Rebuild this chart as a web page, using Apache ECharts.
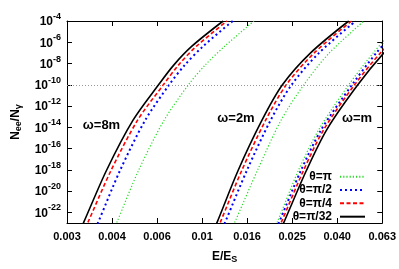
<!DOCTYPE html>
<html><head><meta charset="utf-8">
<script src="https://cdn.jsdelivr.net/npm/echarts@6/dist/echarts.min.js"></script>
<style>html,body{margin:0;padding:0;background:#fff}#c{width:399px;height:269px}</style>
</head><body><div id="c"></div>
<script>
// Tick positions (log10 of E/E_S) and their printed labels
const xTickExponents = [-2.6, -2.4, -2.2, -2.0, -1.8, -1.6, -1.4, -1.2];
const xTickLabels = ['0.003', '0.004', '0.006', '0.01', '0.016', '0.025', '0.040', '0.063'];
// y ticks: exponents of 10 for N_ee/N_gamma
const yTickExponents = [-22, -20, -18, -16, -14, -12, -10, -8, -6, -4];
const refLineExponent = -10;
const thetaNames = ['θ=π', 'θ=π/2', 'θ=π/4', 'θ=π/32'];
const omegaNames = ['ω=8m', 'ω=2m', 'ω=m'];

// omega = 8m : log10(N_ee/N_gamma) levels and E/E_S per theta
const logN_w8 = [-23.5, -22.94, -18.06, -13.33, -10.0, -8.15, -6.37, -4.0];
const E_w8_pi   = [0.004060, 0.004181, 0.005220, 0.006780, 0.008697, 0.010310, 0.012600, 0.017001];
const E_w8_pi2  = [0.003353, 0.003454, 0.004320, 0.005590, 0.007141, 0.008370, 0.010110, 0.013686];
const E_w8_pi4  = [0.003020, 0.003111, 0.003940, 0.005170, 0.006731, 0.007850, 0.009440, 0.012901];
const E_w8_pi32 = [0.002892, 0.002979, 0.003760, 0.004935, 0.006407, 0.007480, 0.009010, 0.012402];

// omega = 2m
const logN_w2 = [-23.5, -22.94, -18.06, -13.33, -10.0, -7.02, -4.0];
const E_w2_pi   = [0.013552, 0.013959, 0.017600, 0.022430, 0.028301, 0.036670, 0.052299];
const E_w2_pi2  = [0.012280, 0.012649, 0.015800, 0.020150, 0.024971, 0.033000, 0.048094];
const E_w2_pi4  = [0.011690, 0.012040, 0.015000, 0.019150, 0.023652, 0.031400, 0.046097];
const E_w2_pi32 = [0.011315, 0.011655, 0.014450, 0.018450, 0.022738, 0.030250, 0.044800];

// omega = m
const logN_w1 = [-23.5, -22.94, -18.06, -14.21, -10.0, -7.0, -5.0];
const E_w1_pi   = [0.020911, 0.021539, 0.026770, 0.033000, 0.044800, 0.057600, 0.069800];
const E_w1_pi2  = [0.021328, 0.021967, 0.027480, 0.033850, 0.046330, 0.059400, 0.072400];
const E_w1_pi4  = [0.021816, 0.022471, 0.028200, 0.034700, 0.047532, 0.062000, 0.077000];
const E_w1_pi32 = [0.022405, 0.023077, 0.029050, 0.035800, 0.049153, 0.064200, 0.080000];

const styles = [
  { color: '#22dd22', width: 1.2, type: [1.2, 2] },
  { color: '#0000ff', width: 2, type: [2, 3] },
  { color: '#ff0000', width: 1.6, type: [4, 2.5] },
  { color: '#000000', width: 1.6, type: 'solid' }
];

const groups = [
  { logN: logN_w8, E: [E_w8_pi, E_w8_pi2, E_w8_pi4, E_w8_pi32] },
  { logN: logN_w2, E: [E_w2_pi, E_w2_pi2, E_w2_pi4, E_w2_pi32] },
  { logN: logN_w1, E: [E_w1_pi, E_w1_pi2, E_w1_pi4, E_w1_pi32] }
];

const FONT = 'Liberation Sans';
const series = [];
groups.forEach((g, gi) => {
  g.E.forEach((arr, ti) => {
    const s = {
      name: thetaNames[ti],
      type: 'line',
      data: arr.map((e, i) => [Math.log10(e), g.logN[i]]),
      symbol: 'none',
      showSymbol: false,
      smooth: 0.3,
      clip: true,
      lineStyle: styles[ti],
      itemStyle: { color: styles[ti].color },
      z: 2 + ti
    };
    if (gi === 0 && ti === 0) {
      s.markLine = {
        silent: true, symbol: ['none', 'none'], label: { show: false },
        lineStyle: { color: '#999', type: [1, 2], width: 1 },
        data: [{ yAxis: refLineExponent }]
      };
    }
    series.push(s);
  });
});

const tickCommon = { show: true, inside: true, length: 5, lineStyle: { color: '#000', width: 1 } };
const lineCommon = { show: true, onZero: false, lineStyle: { color: '#000', width: 1 } };

const chart = echarts.init(document.getElementById('c'), null, { renderer: 'canvas' });
chart.setOption({
  animation: false,
  textStyle: { fontFamily: FONT },
  grid: { left: 56, right: 16, top: 15, bottom: 40, containLabel: false },
  legend: {
    data: thetaNames, orient: 'vertical', align: 'right', right: 33, top: 170.7,
    itemWidth: 25, itemHeight: 10, itemGap: 1.33, padding: 0, selectedMode: false,
    itemStyle: { opacity: 0 },
    textStyle: { fontSize: 12, fontWeight: 'bold', fontFamily: FONT, color: '#000', width: 45, align: 'right', lineHeight: 12, padding: [0, 3, 0, 0] }
  },
  xAxis: [
    {
      type: 'value', min: -2.6, max: -1.2, position: 'bottom',
      axisLine: lineCommon, splitLine: { show: false },
      axisTick: Object.assign({ customValues: xTickExponents }, tickCommon),
      axisLabel: {
        customValues: xTickExponents, color: '#000', fontSize: 11, fontWeight: 'bold', fontFamily: FONT, margin: 8,
        formatter: v => { const i = xTickExponents.findIndex(t => Math.abs(t - v) < 1e-6); return i >= 0 ? xTickLabels[i] : ''; }
      },
      name: '{a|E/E}{s|S}', nameLocation: 'middle', nameGap: 26,
      nameTextStyle: {
        rich: {
          a: { fontSize: 12, fontWeight: 'bold', fontFamily: FONT, color: '#000', lineHeight: 14, verticalAlign: 'bottom' },
          s: { fontSize: 9, fontWeight: 'bold', fontFamily: FONT, color: '#000', lineHeight: 10, padding: [6, 0, 0, 0], verticalAlign: 'top' }
        }
      }
    },
    {
      type: 'value', min: -2.6, max: -1.2, position: 'top',
      axisLine: lineCommon, splitLine: { show: false },
      axisTick: Object.assign({ customValues: xTickExponents }, tickCommon),
      axisLabel: { show: false }
    }
  ],
  yAxis: [
    {
      type: 'value', min: -23, max: -4, position: 'left',
      axisLine: lineCommon, splitLine: { show: false },
      axisTick: Object.assign({ customValues: yTickExponents }, tickCommon),
      axisLabel: {
        customValues: yTickExponents, margin: 6,
        formatter: v => v === -4 ? '{bt|10}{st|' + v + '}' : '{b|10}{s|' + v + '}',
        rich: {
          b: { fontSize: 12, fontWeight: 'bold', fontFamily: FONT, color: '#000', lineHeight: 14, verticalAlign: 'bottom' },
          s: { fontSize: 9, fontWeight: 'bold', fontFamily: FONT, color: '#000', lineHeight: 9, padding: [0, 0, 7, 0], verticalAlign: 'bottom' },
          bt: { fontSize: 12, fontWeight: 'bold', fontFamily: FONT, color: '#000', lineHeight: 14, padding: [16, 0, 0, 0], verticalAlign: 'bottom' },
          st: { fontSize: 9, fontWeight: 'bold', fontFamily: FONT, color: '#000', lineHeight: 9, padding: [0, 0, 7, 0], verticalAlign: 'bottom' }
        }
      },
      name: '{a|N}{s|ee}{a|/N}{s|γ}', nameLocation: 'middle', nameGap: 45,
      nameTextStyle: {
        rich: {
          a: { fontSize: 12, fontWeight: 'bold', fontFamily: FONT, color: '#000', lineHeight: 14, verticalAlign: 'bottom' },
          s: { fontSize: 9, fontWeight: 'bold', fontFamily: FONT, color: '#000', lineHeight: 10, padding: [6, 0, 0, 0], verticalAlign: 'top' }
        }
      }
    },
    {
      type: 'value', min: -23, max: -4, position: 'right',
      axisLine: lineCommon, splitLine: { show: false },
      axisTick: Object.assign({ customValues: yTickExponents }, tickCommon),
      axisLabel: { show: false }
    }
  ],
  graphic: [
    { type: 'text', x: 101.5, y: 125.5, style: { text: omegaNames[0], font: 'bold 13px "Liberation Sans"', fill: '#000', textAlign: 'center', textVerticalAlign: 'middle' } },
    { type: 'text', x: 236, y: 118, style: { text: omegaNames[1], font: 'bold 13px "Liberation Sans"', fill: '#000', textAlign: 'center', textVerticalAlign: 'middle' } },
    { type: 'text', x: 357, y: 118, style: { text: omegaNames[2], font: 'bold 13px "Liberation Sans"', fill: '#000', textAlign: 'center', textVerticalAlign: 'middle' } }
  ],
  series: series
});
</script></body></html>
